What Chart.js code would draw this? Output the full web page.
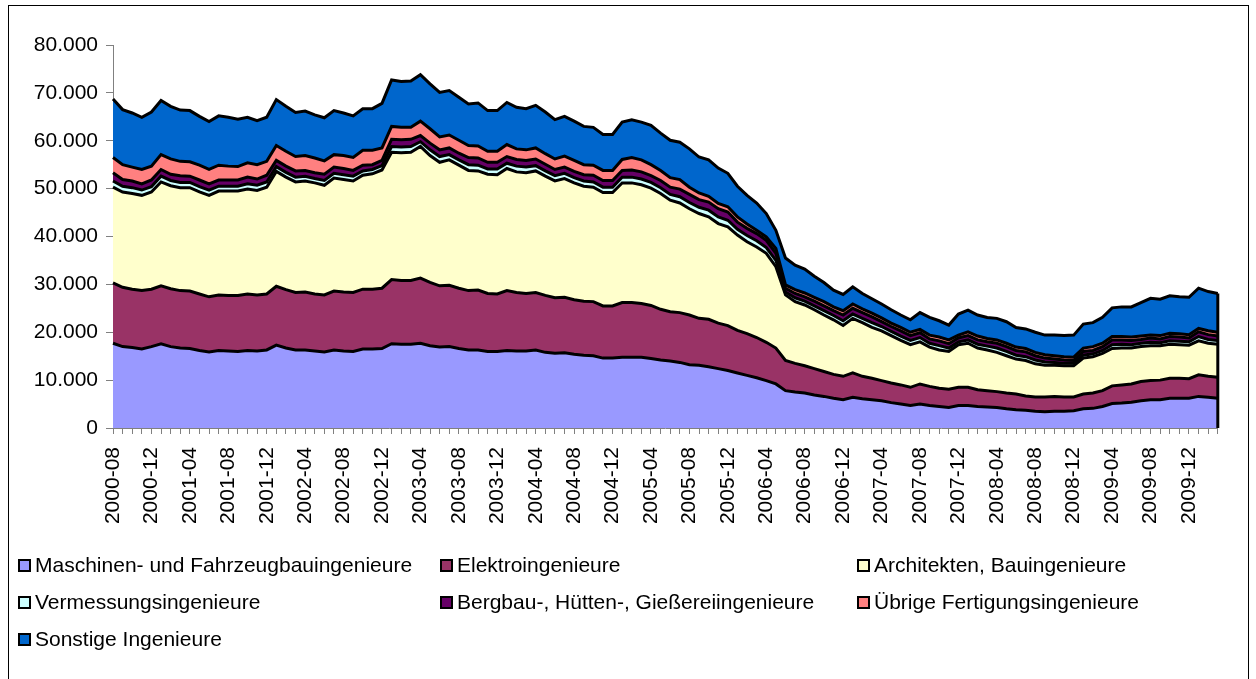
<!DOCTYPE html>
<html>
<head>
<meta charset="utf-8">
<script src="https://cdn.jsdelivr.net/npm/chart.js@4/dist/chart.umd.min.js"></script>
<style>
    html, body { margin: 0; padding: 0; background: #fff; }
    #wrap { position: relative; width: 1256px; height: 679px; overflow: hidden; font-family: 'Liberation Sans', Arial, sans-serif; }
    #frame { position: absolute; left: 8px; top: 5px; width: 1241px; height: 700px; border: 1px solid #000; box-sizing: border-box; }
    #chart { position: absolute; left: 0; top: 0; }
    .item { position: absolute; height: 24px; line-height: 24px; font-size: 21px; color: #000; white-space: nowrap; display: flex; align-items: center; }
    .box { width: 9px; height: 9px; border: 2px solid #000; margin-right: 4px; }
</style>
</head>
<body>
<div id="wrap">
    <div id="frame"></div>
    <canvas id="chart" width="1256" height="679"></canvas>
    <div id="legend"></div>
</div>
<script>
// months 2000-08 .. 2010-03
const months = [
    '2000-08', '2000-09', '2000-10', '2000-11', '2000-12',
    '2001-01', '2001-02', '2001-03', '2001-04', '2001-05', '2001-06', '2001-07', '2001-08', '2001-09', '2001-10', '2001-11', '2001-12',
    '2002-01', '2002-02', '2002-03', '2002-04', '2002-05', '2002-06', '2002-07', '2002-08', '2002-09', '2002-10', '2002-11', '2002-12',
    '2003-01', '2003-02', '2003-03', '2003-04', '2003-05', '2003-06', '2003-07', '2003-08', '2003-09', '2003-10', '2003-11', '2003-12',
    '2004-01', '2004-02', '2004-03', '2004-04', '2004-05', '2004-06', '2004-07', '2004-08', '2004-09', '2004-10', '2004-11', '2004-12',
    '2005-01', '2005-02', '2005-03', '2005-04', '2005-05', '2005-06', '2005-07', '2005-08', '2005-09', '2005-10', '2005-11', '2005-12',
    '2006-01', '2006-02', '2006-03', '2006-04', '2006-05', '2006-06', '2006-07', '2006-08', '2006-09', '2006-10', '2006-11', '2006-12',
    '2007-01', '2007-02', '2007-03', '2007-04', '2007-05', '2007-06', '2007-07', '2007-08', '2007-09', '2007-10', '2007-11', '2007-12',
    '2008-01', '2008-02', '2008-03', '2008-04', '2008-05', '2008-06', '2008-07', '2008-08', '2008-09', '2008-10', '2008-11', '2008-12',
    '2009-01', '2009-02', '2009-03', '2009-04', '2009-05', '2009-06', '2009-07', '2009-08', '2009-09', '2009-10', '2009-11', '2009-12',
    '2010-01', '2010-02', '2010-03'
];

const maschinen = [
    17700, 17000, 16800, 16500, 17000, 17600, 17000, 16700, 16600, 16200,
    15900, 16200, 16100, 16000, 16200, 16100, 16300, 17300, 16700, 16300,
    16300, 16100, 15900, 16300, 16100, 16000, 16500, 16500, 16600, 17600,
    17500, 17500, 17700, 17200, 16900, 17000, 16600, 16300, 16300, 16000,
    16000, 16200, 16100, 16100, 16300, 15800, 15600, 15700, 15400, 15200,
    15100, 14600, 14600, 14800, 14800, 14800, 14500, 14200, 14000, 13700,
    13200, 13100, 12800, 12400, 12000, 11500, 11000, 10500, 9900, 9200,
    7800, 7500, 7300, 6900, 6600, 6200, 5900, 6400, 6100, 5900,
    5700, 5300, 5000, 4700, 5000, 4700, 4500, 4300, 4700, 4700,
    4500, 4400, 4300, 4000, 3800, 3700, 3500, 3400, 3500, 3500,
    3600, 4000, 4100, 4500, 5100, 5200, 5400, 5700, 5900, 5900,
    6200, 6200, 6200, 6600, 6400, 6200
];
const elektro = [
    12600, 12400, 12200, 12200, 12000, 12100, 12100, 12000, 12000, 11800,
    11500, 11600, 11600, 11700, 11800, 11700, 11700, 12300, 12200, 12000,
    12100, 11900, 11900, 12300, 12300, 12300, 12500, 12500, 12600, 13400,
    13300, 13300, 13600, 13200, 12800, 12800, 12600, 12400, 12500, 12100,
    12000, 12500, 12200, 12000, 12000, 11900, 11600, 11600, 11400, 11300,
    11300, 10900, 10900, 11400, 11400, 11200, 11100, 10600, 10300, 10400,
    10400, 9800, 9900, 9500, 9400, 8900, 8700, 8400, 8000, 7500,
    6300, 6000, 5700, 5500, 5200, 5000, 4900, 5100, 4700, 4500,
    4200, 4100, 4000, 3800, 4200, 4000, 3800, 3800, 3800, 3800,
    3500, 3400, 3300, 3300, 3300, 3000, 3000, 3100, 3100, 3000,
    2900, 3100, 3200, 3300, 3700, 3800, 3800, 4000, 4000, 4100,
    4200, 4200, 4100, 4500, 4400, 4400
];
const architekten = [
    20000, 19900, 20000, 19900, 20300, 21700, 21500, 21500, 21600, 21300,
    21200, 21700, 21800, 21800, 21900, 21800, 22300, 24000, 23500, 23100,
    23200, 23200, 22900, 23600, 23500, 23300, 23800, 24100, 24700, 26600,
    26700, 26800, 27500, 26500, 25800, 26200, 25700, 25100, 24900, 24900,
    24900, 25500, 25200, 25200, 25400, 24900, 24400, 24800, 24400, 24000,
    23900, 23700, 23700, 25000, 25000, 24800, 24500, 24200, 23300, 22900,
    22200, 21900, 21400, 20800, 20600, 19900, 19200, 18900, 18600, 17000,
    13700, 12900, 12700, 12300, 11800, 11400, 10600, 11400, 11200, 10600,
    10400, 9900, 9300, 8900, 8800, 8200, 8000, 7900, 8900, 9200,
    8700, 8500, 8200, 7800, 7300, 7400, 6900, 6600, 6500, 6500,
    6500, 7500, 7600, 7800, 7800, 7700, 7500, 7300, 7300, 7200,
    7100, 7000, 7000, 7100, 6900, 6900
];
const vermessung = [
    1300, 1200, 1200, 1100, 1100, 1200, 1100, 1100, 1100, 1100,
    1100, 1000, 1000, 1000, 1100, 1100, 1100, 1000, 1000, 1000,
    1000, 900, 1000, 1000, 1000, 1000, 900, 900, 900, 1200,
    1200, 1200, 1000, 1200, 1200, 1100, 1100, 1200, 1200, 1100,
    1200, 1100, 1200, 1200, 1100, 1100, 1100, 1100, 1100, 1100,
    1100, 1100, 1100, 1200, 1200, 1200, 1200, 1200, 1200, 1300,
    1300, 1300, 1400, 1400, 1400, 1200, 1300, 1300, 1200, 1300,
    600, 800, 800, 800, 900, 900, 1000, 900, 900, 1000,
    900, 900, 900, 900, 900, 800, 900, 700, 600, 700,
    800, 800, 900, 900, 800, 800, 800, 700, 600, 500,
    500, 600, 600, 600, 800, 800, 700, 700, 700, 600,
    700, 700, 700, 900, 800, 800
];
const bergbau = [
    1700, 1400, 1400, 1300, 1400, 1400, 1300, 1400, 1300, 1400,
    1300, 1300, 1300, 1300, 1400, 1300, 1400, 1300, 1300, 1300,
    1200, 1200, 1300, 1300, 1300, 1200, 1200, 1000, 1100, 1500,
    1500, 1500, 1300, 1400, 1400, 1400, 1400, 1500, 1500, 1400,
    1400, 1400, 1400, 1400, 1400, 1400, 1300, 1300, 1300, 1300,
    1400, 1400, 1400, 1400, 1500, 1500, 1400, 1500, 1500, 1600,
    1700, 1600, 1700, 1700, 1700, 1500, 1500, 1500, 1500, 1500,
    800, 900, 900, 1000, 1000, 1000, 1200, 1200, 1200, 1200,
    1000, 1000, 1100, 1000, 1000, 900, 1000, 900, 800, 900,
    900, 900, 1000, 1000, 1000, 1000, 900, 800, 700, 700,
    600, 800, 700, 800, 1000, 900, 900, 800, 900, 800,
    900, 900, 800, 1000, 1000, 900
];
const uebrige = [
    3200, 3100, 2900, 3000, 2900, 3100, 3200, 3000, 3000, 3100,
    3000, 3100, 2900, 2800, 3000, 3000, 2900, 3100, 3100, 3000,
    3100, 3100, 2800, 2600, 2700, 2700, 3100, 3000, 2600, 2700,
    2600, 2500, 3000, 3000, 2700, 2700, 2700, 2500, 2500, 2300,
    2300, 2500, 2200, 2200, 2300, 2200, 2200, 2300, 2300, 2100,
    2100, 2100, 2100, 2300, 2600, 2500, 2300, 2100, 2000, 2000,
    1500, 1400, 1200, 1100, 1100, 1100, 900, 700, 700, 1000,
    700, 800, 800, 800, 900, 800, 900, 900, 800, 800,
    800, 700, 700, 700, 700, 800, 800, 800, 600, 800,
    800, 700, 700, 700, 700, 700, 700, 700, 700, 700,
    700, 700, 800, 700, 700, 700, 700, 700, 600, 700,
    700, 700, 700, 700, 800, 800
];
const sonstige = [
    12200, 11500, 11300, 10900, 11300, 11300, 11000, 10700, 10700, 10200,
    10000, 10300, 10200, 9900, 9500, 9200, 9200, 9600, 9400, 9200,
    9300, 9000, 9000, 9200, 8900, 8700, 8700, 8700, 9300, 9700,
    9600, 9700, 9700, 9400, 9300, 9300, 9000, 8700, 9000, 8500,
    8500, 8800, 8700, 8600, 8900, 8700, 8200, 8300, 8200, 8000,
    7900, 7500, 7500, 7800, 7900, 7900, 8200, 7800, 7800, 7800,
    8000, 7500, 7600, 7400, 7000, 6400, 6000, 5700, 4900, 3800,
    5600, 5100, 5000, 4400, 4000, 3500, 3400, 3600, 3200, 3000,
    2900, 2800, 2600, 2600, 3500, 3700, 3400, 3100, 4400, 4500,
    4400, 4400, 4500, 4500, 4100, 4100, 4200, 4100, 4300, 4400,
    4600, 5000, 5000, 5400, 6000, 6200, 6300, 7000, 7700, 7600,
    7800, 7700, 7800, 8400, 8200, 8100
];

const seriesNames = [
    'Maschinen- und Fahrzeugbauingenieure', 'Elektroingenieure', 'Architekten, Bauingenieure',
    'Vermessungsingenieure', 'Bergbau-, Hütten-, Gießereiingenieure', 'Übrige Fertigungsingenieure',
    'Sonstige Ingenieure'
];
const seriesColors = ['#9999FF', '#993366', '#FFFFCC', '#CCFFFF', '#660066', '#FF8080', '#0066CC'];
const seriesData = [maschinen, elektro, architekten, vermessung, bergbau, uebrige, sonstige];

const FONT = { family: "'Liberation Sans', Arial, sans-serif", size: 21 };

function fmtDE(v) {
    return String(v).replace(/\B(?=(\d{3})+(?!\d))/g, '.');
}

// closes the right edge of the stacked area like Excel does
const edgeLine = {
    id: 'edgeLine',
    afterDatasetsDraw(chart) {
        const meta = chart.getDatasetMeta(seriesData.length - 1);
        const last = meta.data[meta.data.length - 1];
        const ctx = chart.ctx;
        ctx.save();
        ctx.strokeStyle = '#000';
        ctx.lineWidth = 3;
        ctx.beginPath();
        ctx.moveTo(last.x, last.y);
        ctx.lineTo(last.x, chart.scales.y.getPixelForValue(0));
        ctx.stroke();
        ctx.restore();
    }
};

new Chart(document.getElementById('chart'), {
    type: 'line',
    data: {
        labels: months,
        datasets: seriesData.map((d, i) => ({
            label: seriesNames[i],
            data: d,
            backgroundColor: seriesColors[i],
            borderColor: '#000',
            borderWidth: 3,
            fill: i === 0 ? 'origin' : '-1',
            tension: 0,
            pointRadius: 0
        }))
    },
    options: {
        responsive: false,
        animation: false,
        layout: { padding: { left: 0, right: 38, top: 45, bottom: 0 } },
        plugins: {
            legend: { display: false },
            tooltip: { enabled: false },
            filler: { drawTime: 'beforeDatasetsDraw' }
        },
        scales: {
            x: {
                afterFit: (s) => { s.height = 251; },
                grid: { drawOnChartArea: false, drawTicks: true, tickLength: 6, color: '#808080' },
                border: { color: '#808080', width: 1 },
                ticks: {
                    autoSkip: false,
                    minRotation: 90,
                    maxRotation: 90,
                    padding: 13,
                    color: '#000',
                    font: FONT,
                    callback: function (v, i) { return i % 4 === 0 ? months[i] : ''; }
                }
            },
            y: {
                stacked: true,
                min: 0,
                max: 80000,
                afterFit: (s) => { s.width = 113; },
                grid: { drawOnChartArea: false, drawTicks: true, tickLength: 7, color: '#808080' },
                border: { color: '#808080', width: 1 },
                ticks: {
                    stepSize: 10000,
                    padding: 8,
                    color: '#000',
                    font: FONT,
                    callback: (v) => fmtDE(v)
                }
            }
        }
    },
    plugins: [edgeLine]
});

// legend in three fixed columns, like the original
const legendCols = [18, 440, 857];
const legendRows = [565, 602, 639];
const legendEl = document.getElementById('legend');
seriesNames.forEach((name, i) => {
    const item = document.createElement('div');
    item.className = 'item';
    item.style.left = legendCols[i % 3] + 'px';
    item.style.top = (legendRows[Math.floor(i / 3)] - 12) + 'px';
    item.innerHTML = `<span class="box" style="background:${seriesColors[i]}"></span>${name}`;
    legendEl.appendChild(item);
});
</script>
</body>
</html>
